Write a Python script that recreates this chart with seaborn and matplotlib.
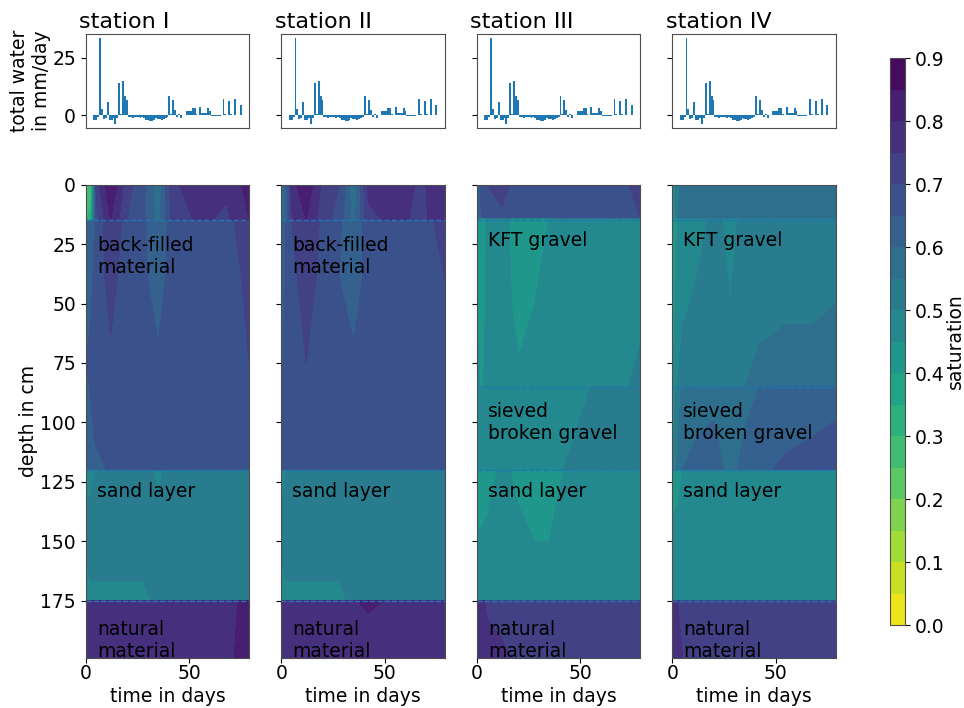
import numpy as np
import seaborn as sns
import matplotlib
matplotlib.use("Agg")
import matplotlib.pyplot as plt

# ---- data -------------------------------------------------------------
stations = ["station I", "station II", "station III", "station IV"]

days = list(range(1, 78))
water = [-2.0, -2.2, -0.5, 33.4, 2.9, -1.5, -1.0, 5.7, -2.0, -2.2,
         -1.0, -3.6, -1.0, 14.0, 0.5, 14.8, 8.6, 6.8, -0.8, -0.6,
         -1.0, -0.7, -0.9, -0.5, -1.0, -0.8, -1.2, -1.8, -2.2, -2.6,
         -2.4, -2.0, -1.2, -1.6, -1.4, -1.8, -1.5, -1.2, -0.8, 8.6,
         0.5, 6.8, 2.5, -0.5, 0.5, -1.0, 0.2, 0.3, 2.0, 2.1,
         2.0, 3.0, 3.1, 0.5, 0.3, 3.6, 1.0, 1.2, 1.0, 3.3,
         1.7, -0.2, -0.2, -0.3, -0.2, -0.1, 0.3, 7.1, 0.5, 0.3,
         6.1, 0.5, 0.2, 7.1, 0.1, 0.3, 4.5]

times = [0, 2.5, 5, 12, 20, 28, 35, 42, 55, 68, 79]

depth_I = [0, 14.9, 15.1, 40, 75, 105, 119.9, 120.1, 150, 174.9, 175.1, 199]
sat_I = [
    [0.25, 0.25, 0.72, 0.85, 0.72, 0.66, 0.56, 0.74, 0.78, 0.76, 0.82],
    [0.28, 0.35, 0.68, 0.80, 0.70, 0.66, 0.58, 0.72, 0.76, 0.74, 0.80],
    [0.62, 0.62, 0.66, 0.74, 0.68, 0.66, 0.60, 0.68, 0.70, 0.69, 0.72],
    [0.63, 0.64, 0.67, 0.72, 0.67, 0.66, 0.62, 0.68, 0.69, 0.68, 0.71],
    [0.65, 0.66, 0.67, 0.69, 0.67, 0.67, 0.66, 0.67, 0.68, 0.68, 0.70],
    [0.62, 0.64, 0.66, 0.67, 0.67, 0.67, 0.67, 0.67, 0.67, 0.67, 0.69],
    [0.61, 0.62, 0.63, 0.66, 0.67, 0.67, 0.67, 0.67, 0.67, 0.67, 0.68],
    [0.49, 0.49, 0.50, 0.51, 0.52, 0.52, 0.49, 0.52, 0.52, 0.52, 0.53],
    [0.51, 0.52, 0.52, 0.52, 0.52, 0.52, 0.52, 0.52, 0.52, 0.52, 0.53],
    [0.48, 0.49, 0.49, 0.49, 0.49, 0.49, 0.51, 0.52, 0.52, 0.52, 0.53],
    [0.78, 0.78, 0.78, 0.78, 0.78, 0.78, 0.78, 0.78, 0.78, 0.79, 0.81],
    [0.78, 0.78, 0.78, 0.78, 0.78, 0.78, 0.78, 0.78, 0.78, 0.79, 0.82],
]

depth_II = [0, 14.9, 15.1, 40, 75, 105, 119.9, 120.1, 150, 174.9, 175.1, 183, 199]
sat_II = [
    [0.55, 0.62, 0.78, 0.84, 0.74, 0.70, 0.56, 0.76, 0.78, 0.74, 0.80],
    [0.56, 0.64, 0.74, 0.80, 0.72, 0.68, 0.58, 0.74, 0.76, 0.74, 0.78],
    [0.60, 0.66, 0.70, 0.74, 0.69, 0.66, 0.60, 0.68, 0.70, 0.69, 0.71],
    [0.62, 0.66, 0.68, 0.73, 0.68, 0.65, 0.62, 0.67, 0.69, 0.68, 0.70],
    [0.64, 0.67, 0.68, 0.70, 0.68, 0.67, 0.66, 0.67, 0.68, 0.68, 0.69],
    [0.66, 0.67, 0.67, 0.68, 0.68, 0.67, 0.67, 0.67, 0.68, 0.68, 0.69],
    [0.66, 0.67, 0.67, 0.67, 0.67, 0.67, 0.67, 0.67, 0.67, 0.68, 0.68],
    [0.49, 0.50, 0.51, 0.51, 0.52, 0.52, 0.52, 0.52, 0.52, 0.52, 0.53],
    [0.51, 0.52, 0.52, 0.52, 0.52, 0.52, 0.52, 0.52, 0.52, 0.52, 0.53],
    [0.48, 0.49, 0.49, 0.49, 0.49, 0.49, 0.51, 0.52, 0.52, 0.52, 0.52],
    [0.78, 0.78, 0.78, 0.78, 0.78, 0.78, 0.79, 0.82, 0.78, 0.78, 0.78],
    [0.78, 0.78, 0.78, 0.78, 0.78, 0.78, 0.78, 0.79, 0.78, 0.78, 0.78],
    [0.78, 0.78, 0.78, 0.78, 0.78, 0.78, 0.78, 0.78, 0.78, 0.78, 0.78],
]

depth_III = [0, 13.9, 14.1, 50, 84.9, 85.1, 119.9, 120.1, 150, 174.9, 175.1, 199]
sat_III = [
    [0.62, 0.66, 0.70, 0.72, 0.68, 0.68, 0.68, 0.70, 0.68, 0.68, 0.72],
    [0.60, 0.66, 0.68, 0.69, 0.68, 0.67, 0.67, 0.68, 0.67, 0.67, 0.70],
    [0.44, 0.39, 0.46, 0.48, 0.41, 0.40, 0.45, 0.47, 0.48, 0.48, 0.49],
    [0.45, 0.41, 0.47, 0.48, 0.43, 0.45, 0.47, 0.48, 0.48, 0.49, 0.49],
    [0.46, 0.44, 0.47, 0.48, 0.46, 0.47, 0.48, 0.48, 0.49, 0.49, 0.51],
    [0.46, 0.45, 0.47, 0.48, 0.47, 0.47, 0.48, 0.49, 0.50, 0.50, 0.52],
    [0.47, 0.46, 0.48, 0.49, 0.49, 0.49, 0.49, 0.50, 0.51, 0.52, 0.54],
    [0.41, 0.41, 0.43, 0.46, 0.44, 0.41, 0.41, 0.45, 0.47, 0.47, 0.47],
    [0.46, 0.46, 0.46, 0.47, 0.46, 0.45, 0.45, 0.47, 0.47, 0.47, 0.47],
    [0.47, 0.47, 0.47, 0.47, 0.47, 0.47, 0.47, 0.47, 0.47, 0.47, 0.47],
    [0.77, 0.76, 0.74, 0.73, 0.73, 0.73, 0.73, 0.73, 0.73, 0.73, 0.73],
    [0.78, 0.78, 0.77, 0.76, 0.74, 0.73, 0.73, 0.73, 0.73, 0.73, 0.73],
]

depth_IV = [0, 13.9, 14.1, 50, 84.9, 85.1, 119.9, 120.1, 150, 174.9, 175.1, 199]
sat_IV = [
    [0.42, 0.54, 0.56, 0.58, 0.56, 0.57, 0.56, 0.57, 0.57, 0.56, 0.60],
    [0.44, 0.55, 0.56, 0.57, 0.56, 0.56, 0.56, 0.57, 0.57, 0.56, 0.58],
    [0.40, 0.45, 0.47, 0.48, 0.51, 0.49, 0.51, 0.52, 0.52, 0.52, 0.53],
    [0.42, 0.47, 0.49, 0.51, 0.52, 0.50, 0.52, 0.53, 0.54, 0.54, 0.55],
    [0.45, 0.50, 0.53, 0.54, 0.55, 0.53, 0.55, 0.57, 0.58, 0.58, 0.60],
    [0.46, 0.52, 0.56, 0.57, 0.58, 0.55, 0.58, 0.60, 0.61, 0.62, 0.63],
    [0.50, 0.56, 0.60, 0.62, 0.63, 0.58, 0.62, 0.64, 0.66, 0.67, 0.68],
    [0.43, 0.44, 0.45, 0.46, 0.46, 0.46, 0.46, 0.47, 0.47, 0.47, 0.47],
    [0.46, 0.46, 0.46, 0.46, 0.46, 0.46, 0.46, 0.47, 0.47, 0.47, 0.47],
    [0.47, 0.47, 0.47, 0.47, 0.47, 0.47, 0.47, 0.47, 0.47, 0.47, 0.47],
    [0.76, 0.75, 0.74, 0.73, 0.73, 0.73, 0.73, 0.73, 0.73, 0.73, 0.73],
    [0.77, 0.76, 0.75, 0.74, 0.73, 0.73, 0.73, 0.73, 0.73, 0.73, 0.73],
]

depths = [depth_I, depth_II, depth_III, depth_IV]
sats = [sat_I, sat_II, sat_III, sat_IV]

boundaries_two = [15, 120, 175]
boundaries_three = [15, 85, 120, 175]
bounds = [boundaries_two, boundaries_two, boundaries_three, boundaries_three]

labels_two = [("back-filled\nmaterial", 21.5), ("sand layer", 125), ("natural\nmaterial", 183)]
labels_three = [("KFT gravel", 19.5), ("sieved\nbroken gravel", 91.5),
                ("sand layer", 125), ("natural\nmaterial", 183)]
layer_labels = [labels_two, labels_two, labels_three, labels_three]

levels = np.arange(0, 0.9001, 0.05)

# ---- plot ---------------------------------------------------------------
sns.set_style("ticks")
plt.rcParams["font.family"] = ["DejaVu Sans"]
plt.rcParams["text.color"] = "black"
plt.rcParams["axes.labelcolor"] = "black"
plt.rcParams["xtick.color"] = "black"
plt.rcParams["ytick.color"] = "black"
plt.rcParams["axes.edgecolor"] = "0.3"
plt.rcParams["xtick.major.pad"] = 0.8

fs = 13.5
f, ax = plt.subplots(2, 4, figsize=(9.64, 7.08), dpi=100, sharey="row",
                     gridspec_kw=dict(height_ratios=[94, 473]))
plt.subplots_adjust(left=0.089, right=0.867, top=0.952, bottom=0.071,
                    wspace=0.196, hspace=0.2)

for i, name in enumerate(stations):
    top = ax[0, i]
    sns.barplot(x=days, y=water, native_scale=True, color="tab:blue",
                saturation=1, errorbar=None, width=1, linewidth=0, ax=top)
    top.set_xticks([])
    top.set_yticks([0, 25])
    top.tick_params(labelsize=fs)
    top.set_title(name, loc="left", x=-0.04, fontsize=16, pad=4)

    bot = ax[1, i]
    cs = bot.contourf(times, depths[i], sats[i], levels=levels, cmap="viridis_r")
    for b in bounds[i]:
        bot.axhline(b, color="tab:blue", ls="--", lw=1)
    for txt, d in layer_labels[i]:
        bot.text(5.3, d, txt, fontsize=fs, va="top", ha="left")
    bot.set_xticks([0, 50])
    bot.set_xlabel("time in days", fontsize=fs, labelpad=3)
    bot.tick_params(labelsize=fs)

ax[0, 0].set_ylabel("total water\nin mm/day", fontsize=fs, labelpad=1)
ax[1, 0].set_ylabel("depth in cm", fontsize=fs, labelpad=2)
ax[1, 0].set_yticks([0, 25, 50, 75, 100, 125, 150, 175])
ax[1, 0].set_ylim(199, 0)

cax = f.add_axes([0.923, 0.117, 0.016, 0.801])
cb = f.colorbar(cs, cax=cax, ticks=np.arange(0, 0.91, 0.1))
cb.ax.tick_params(labelsize=fs)
cb.ax.yaxis.set_major_formatter(matplotlib.ticker.FormatStrFormatter("%.1f"))
cb.set_label("saturation", fontsize=fs, labelpad=1)

plt.savefig("out.png", dpi=100)
